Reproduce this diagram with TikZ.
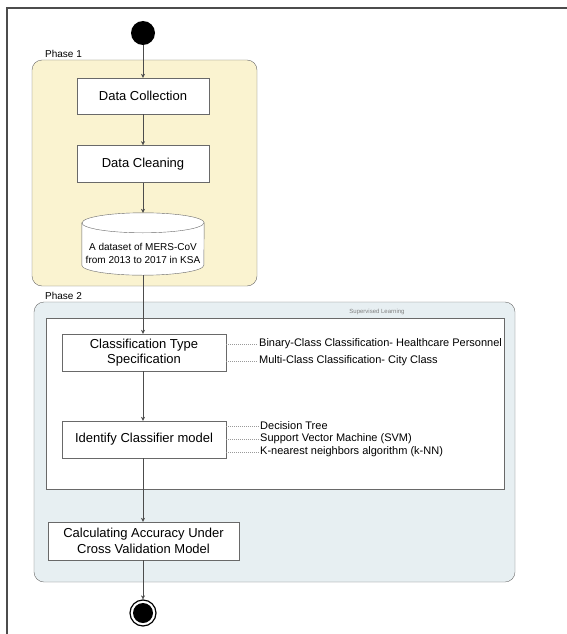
\documentclass[tikz,border=0pt]{standalone}
\usepackage{fontspec}
\setmainfont{Liberation Sans}
\usepackage{xcolor}
\usepackage{tikz}
\usetikzlibrary{positioning}
\usetikzlibrary{arrows.meta}
\definecolor{phaseone}{RGB}{250,243,208}
\definecolor{phasetwo}{RGB}{231,239,242}
\definecolor{edgegray}{RGB}{105,105,105}
\tikzset{activity/.style={draw=edgegray, fill=white, align=center, inner sep=0pt, font=\fontsize{13}{15.5}\selectfont}}
\tikzset{flow/.style={draw=black!70, -{Stealth[length=4pt,width=4pt]}}}
\tikzset{note/.style={anchor=west, inner sep=0pt, font=\fontsize{11}{12}\selectfont}}
\tikzset{link/.style={draw=gray!80, dash pattern=on 1pt off 1pt}}
\tikzset{phase/.style={draw=edgegray, rounded corners=10pt}}
\tikzset{phaselabel/.style={anchor=base west, inner sep=0pt, font=\fontsize{10}{12}\selectfont}}

\begin{document}
\begin{tikzpicture}[x=1pt, y=-1pt]
\useasboundingbox (0,0) rectangle (567,634);
\draw[gray!60!black, line width=1.5pt] (567,8) -- (7,8) -- (7,634);

\draw[phase, fill=phaseone] (32,60) rectangle (257,286);
\node[phaselabel] (ph1) at (45,58) {Phase 1};
\draw[phase, fill=phasetwo] (34,302) rectangle (515,582);
\node[phaselabel] (ph2) at (45,299) {Phase 2};
\draw[edgegray, fill=white] (46,318) rectangle (504,489);
\node[font=\fontsize{6}{7}\selectfont, text=gray] (sl) at (377,312) {Supervised Learning};

\node[circle, fill=black, minimum size=24pt, inner sep=0pt] (start) at (143,33) {};
\node[activity, minimum width=132pt, minimum height=36pt] (dcol) at (143,96) {Data Collection};
\node[activity, minimum width=132pt, minimum height=37pt, below=31pt of dcol] (dcln) {Data Cleaning};

% dataset drum
\node[minimum width=122pt, minimum height=62pt, inner sep=0pt] (ds) at (143,244) {};
\draw[edgegray, fill=white] ([yshift=-10pt]ds.north west) -- ([yshift=10pt]ds.south west)
  arc[start angle=180, end angle=360, x radius=61pt, y radius=10pt]
  -- ([yshift=-10pt]ds.north east)
  arc[start angle=0, end angle=180, x radius=61pt, y radius=10pt] -- cycle;
\draw[edgegray] ([yshift=-10pt]ds.north west) arc[start angle=180, end angle=360, x radius=61pt, y radius=10pt];
\node[align=center, inner sep=0pt, font=\fontsize{10}{13}\selectfont] (dstext) at (143,253.5)
  {A dataset of MERS-CoV\\from 2013 to 2017 in KSA};

\node[activity, minimum width=164pt, minimum height=37pt] (cts) at (144,352.5) {Classification Type\\Specification};
\node[activity, minimum width=164pt, minimum height=37pt] (icm) at (144,439.5) {Identify Classifier model};
\node[activity, minimum width=191pt, minimum height=38pt] (cav) at (143.5,541) {Calculating Accuracy Under\\Cross Validation Model};

\node[circle, draw=black, line width=1.2pt, fill=white, minimum size=26pt, inner sep=0pt] (stop) at (143,613) {};
\node[circle, fill=black, minimum size=20pt, inner sep=0pt] (stopdot) at (stop) {};

\node[note] (bin) at (259,344) {Binary-Class Classification- Healthcare Personnel};
\node[note] (mul) at (259,361) {Multi-Class Classification- City Class};
\node[note] (dt) at (260,426) {Decision Tree};
\node[note] (svm) at (260,439) {Support Vector Machine (SVM)};
\node[note] (knn) at (260,452) {K-nearest neighbors algorithm (k-NN)};

\draw[flow] (start) -- (dcol);
\draw[flow] (dcol) -- (dcln);
\draw[flow] (dcln) -- (ds.north);
\draw[flow] (ds.south) -- (ds.south |- cts.north);
\draw[flow] (cts.south -| ds.south) -- (icm.north -| ds.south);
\draw[flow] (icm.south -| ds.south) -- (cav.north -| ds.south);
\draw[flow] (cav.south -| ds.south) -- (stop);

\draw[link] (cts.east |- bin.west) -- ++(32pt,0);
\draw[link] (cts.east |- mul.west) -- ++(32pt,0);
\draw[link] (icm.east |- dt.west) -- ++(33pt,0);
\draw[link] (icm.east |- svm.west) -- ++(33pt,0);
\draw[link] (icm.east |- knn.west) -- ++(33pt,0);
\end{tikzpicture}
\end{document}
